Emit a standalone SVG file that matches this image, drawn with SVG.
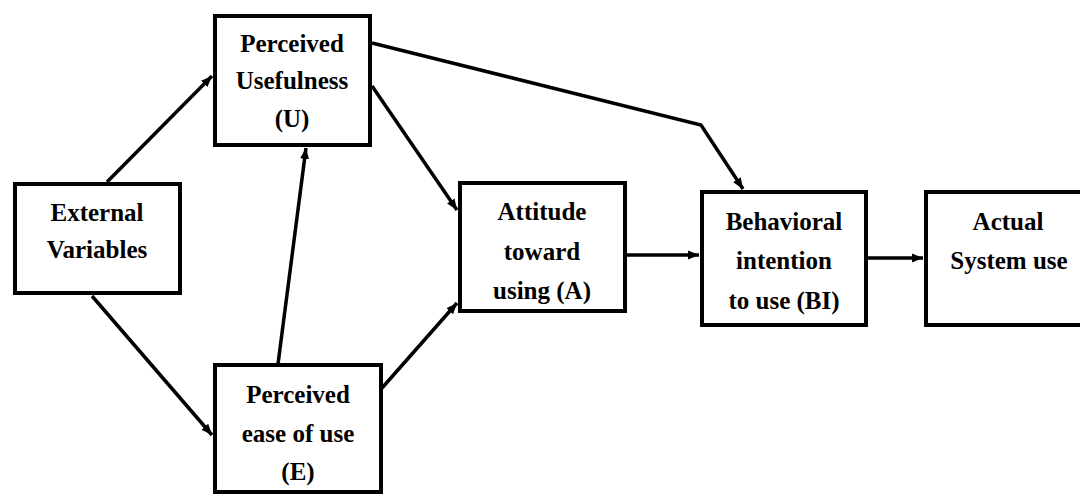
<svg xmlns="http://www.w3.org/2000/svg" width="1080" height="495" viewBox="0 0 1080 495">
<style>
.box{fill:#fff;stroke:#000;stroke-width:4}
.t{font-family:"Liberation Serif","Times New Roman",serif;font-size:25px;font-weight:bold;fill:#000;text-anchor:middle}
.c{fill:none;stroke:#000;stroke-width:3.5}
</style>
<defs>
<marker id="ah" markerUnits="userSpaceOnUse" markerWidth="12" markerHeight="10" refX="11" refY="5" orient="auto">
<path d="M0,0.5 L11,5 L0,9.5 z" fill="#000"/>
</marker>
</defs>
<rect width="1080" height="495" fill="#fff"/>
<g id="connectors">
<line class="c" x1="107" y1="182" x2="212" y2="76" marker-end="url(#ah)"/>
<line class="c" x1="92" y1="296" x2="212" y2="435" marker-end="url(#ah)"/>
<line class="c" x1="278" y1="364" x2="306" y2="148" marker-end="url(#ah)"/>
<line class="c" x1="372" y1="86" x2="457" y2="210" marker-end="url(#ah)"/>
<line class="c" x1="382" y1="388" x2="457" y2="303" marker-end="url(#ah)"/>
<polyline class="c" points="372,43 701,125 743,189" marker-end="url(#ah)"/>
<line class="c" x1="627" y1="255" x2="699" y2="255" marker-end="url(#ah)"/>
<line class="c" x1="868" y1="258" x2="923" y2="258" marker-end="url(#ah)"/>
</g>
<g id="external">
<rect class="box" x="15" y="184" width="165" height="109"/>
<text class="t" x="97" y="221">External</text>
<text class="t" x="97" y="258">Variables</text>
</g>
<g id="usefulness">
<rect class="box" x="215" y="16" width="155" height="129"/>
<text class="t" x="292" y="52">Perceived</text>
<text class="t" x="292" y="89">Usefulness</text>
<text class="t" x="292" y="127">(U)</text>
</g>
<g id="ease">
<rect class="box" x="215" y="365" width="166" height="127"/>
<text class="t" x="298" y="403">Perceived</text>
<text class="t" x="298" y="442">ease of use</text>
<text class="t" x="298" y="480">(E)</text>
</g>
<g id="attitude">
<rect class="box" x="460" y="183" width="165" height="128"/>
<text class="t" x="542" y="220">Attitude</text>
<text class="t" x="542" y="260">toward</text>
<text class="t" x="542" y="299">using (A)</text>
</g>
<g id="intention">
<rect class="box" x="702" y="192" width="164" height="133"/>
<text class="t" x="784" y="230">Behavioral</text>
<text class="t" x="784" y="269">intention</text>
<text class="t" x="784" y="309">to use (BI)</text>
</g>
<g id="actual">
<rect class="box" x="926" y="192" width="170" height="133"/>
<text class="t" x="1008" y="230">Actual</text>
<text class="t" x="1009" y="269">System use</text>
</g>
</svg>
